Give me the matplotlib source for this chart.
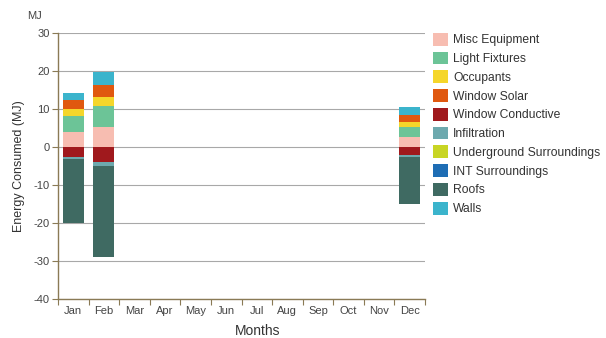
import matplotlib
matplotlib.use("Agg")
import matplotlib.pyplot as plt
import numpy as np
from matplotlib.patches import Patch

months = ["Jan", "Feb", "Mar", "Apr", "May", "Jun", "Jul", "Aug", "Sep", "Oct", "Nov", "Dec"]
series_names = ["Misc Equipment", "Light Fixtures", "Occupants", "Window Solar",
                "Window Conductive", "Infiltration", "Underground Surroundings",
                "INT Surroundings", "Roofs", "Walls"]
series_colors = ["#F7BDB1", "#6CC497", "#F5D62A", "#E0580F", "#A0191D",
                 "#6DA9AE", "#C8D524", "#1E6DB4", "#3F6A62", "#3BB4CC"]

misc_equipment = [4.0, 5.3, 0, 0, 0, 0, 0, 0, 0, 0, 0, 2.6]
light_fixtures = [4.2, 5.5, 0, 0, 0, 0, 0, 0, 0, 0, 0, 2.7]
occupants = [1.8, 2.4, 0, 0, 0, 0, 0, 0, 0, 0, 0, 1.3]
window_solar = [2.4, 3.1, 0, 0, 0, 0, 0, 0, 0, 0, 0, 1.8]
window_conductive = [-2.6, -3.9, 0, 0, 0, 0, 0, 0, 0, 0, 0, -2.1]
infiltration = [-0.6, -1.1, 0, 0, 0, 0, 0, 0, 0, 0, 0, -0.5]
underground = [0, 0, 0, 0, 0, 0, 0, 0, 0, 0, 0, 0]
int_surroundings = [0, 0, 0, 0, 0, 0, 0, 0, 0, 0, 0, 0]
roofs = [-16.8, -24.0, 0, 0, 0, 0, 0, 0, 0, 0, 0, -12.4]
walls = [1.8, 3.4, 0, 0, 0, 0, 0, 0, 0, 0, 0, 2.1]

yticks = [30, 20, 10, 0, -10, -20, -30, -40]

all_series = [misc_equipment, light_fixtures, occupants, window_solar, window_conductive,
              infiltration, underground, int_surroundings, roofs, walls]

plt.rcParams['font.family'] = ['Liberation Sans', 'DejaVu Sans']
fig = plt.figure(figsize=(6.06, 3.38), dpi=100)
ax = fig.add_axes([58/606, 1-299/338, (425-58)/606, (299-33)/338])

axis_col = "#8A7A55"
x = np.arange(len(months))
pos_base = np.zeros(len(months))
neg_base = np.zeros(len(months))
for name, vals, col in zip(series_names, all_series, series_colors):
    v = np.array(vals, dtype=float)
    p = np.where(v > 0, v, 0)
    n = np.where(v < 0, v, 0)
    ax.bar(x, p, bottom=pos_base, width=0.69, color=col, linewidth=0, zorder=3)
    ax.bar(x, n, bottom=neg_base, width=0.69, color=col, linewidth=0, zorder=3)
    pos_base += p
    neg_base += n

ax.set_xlim(-0.5, 11.5)
ax.set_ylim(-40, 30)
ax.set_yticks(yticks)
ax.set_yticklabels([str(t) for t in yticks], fontsize=8, color="#444444")
ax.yaxis.grid(True, color="#A8A8A8", linewidth=0.8, zorder=0)
ax.set_xticks(x)
ax.set_xticklabels(months, fontsize=8, color="#444444")
ax.set_xticks(np.arange(-0.5, 12, 1), minor=True)
ax.tick_params(axis='x', which='major', length=0, pad=5)
ax.tick_params(axis='x', which='minor', length=4, color=axis_col, width=0.8)
ax.tick_params(axis='y', length=4, color=axis_col, width=0.8, pad=2)
for s in ["top", "right"]:
    ax.spines[s].set_visible(False)
for s in ["left", "bottom"]:
    ax.spines[s].set_color(axis_col)
    ax.spines[s].set_linewidth(1.0)

ax.set_ylabel("Energy Consumed (MJ)", fontsize=9, color="#333333", labelpad=6)
ax.set_xlabel("Months", fontsize=10, color="#333333")
ax.xaxis.set_label_coords((258-58)/367, -0.095)
fig.text(35/606, 1-16/338, "MJ", fontsize=8, color="#444444", ha="center", va="center")

handles = [Patch(facecolor=c, edgecolor='none') for c in series_colors]
leg = fig.legend(handles, series_names, loc="upper left", bbox_to_anchor=(428/606, 1-28/338),
                 frameon=False, fontsize=8.7, handlelength=1.25, handleheight=1.25,
                 labelspacing=0.44, handletextpad=0.45, borderaxespad=0)
for t in leg.get_texts():
    t.set_color("#333333")

fig.savefig("out.png", dpi=100)
